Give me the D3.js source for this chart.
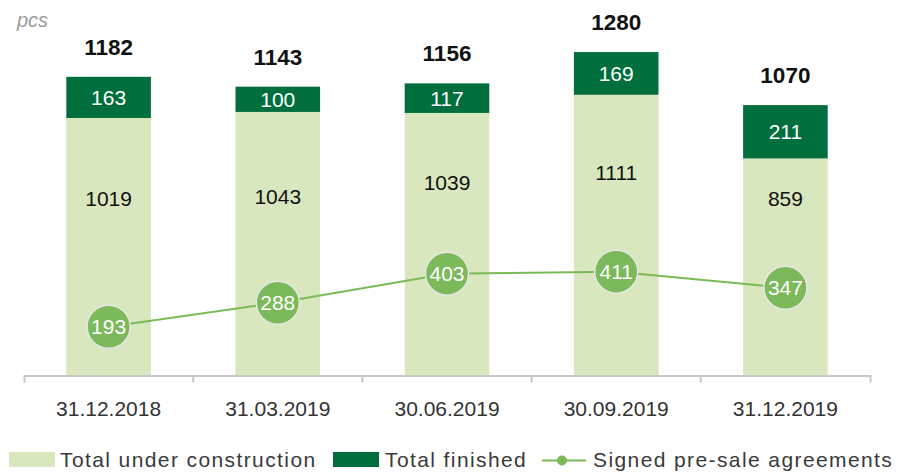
<!DOCTYPE html>
<html>
<head>
<meta charset="utf-8">
<script src="https://cdn.jsdelivr.net/npm/d3@7"></script>
<style>
body { margin: 0; background: #fff; }
svg { display: block; font-family: "Liberation Sans", Arial, sans-serif; }
</style>
</head>
<body>
<div id="chart"></div>
<script>

// data
var dates = ["31.12.2018", "31.03.2019", "30.06.2019", "30.09.2019", "31.12.2019"];
var underConstruction = [1019, 1043, 1039, 1111, 859];
var finished = [163, 100, 117, 169, 211];
var totals = [1182, 1143, 1156, 1280, 1070];
var presale = [193, 288, 403, 411, 347];
var legendNames = ["Total under construction", "Total finished", "Signed pre-sale agreements"];

var lightGreen = "#d8e7bd", darkGreen = "#006f3d", lineGreen = "#7bba58";

var width = 908, height = 472;
var baseY = 375.5;

var svg = d3.select("#chart").append("svg")
    .attr("width", width)
    .attr("height", height);

var x = d3.scaleBand()
    .domain(dates)
    .range([24, 870])
    .paddingInner(0.5)
    .paddingOuter(0.25);

var y = d3.scaleLinear()
    .domain([0, 1486])
    .range([baseY, 0]);

var bw = x.bandwidth();
var step = x.step();
var cx = function(d) { return x(d) + bw / 2; };

var rows = dates.map(function(d, i) {
    return { date: d, under: underConstruction[i], fin: finished[i], total: totals[i], pre: presale[i] };
});

// unit label
svg.append("text")
    .attr("x", 17).attr("y", 27)
    .attr("font-size", 20).attr("font-style", "italic")
    .attr("fill", "#9b9b9b")
    .text("pcs");

// bars - under construction
svg.selectAll(".under").data(rows).enter().append("rect")
    .attr("class", "under")
    .attr("x", function(d) { return x(d.date); })
    .attr("width", bw)
    .attr("y", function(d) { return y(d.under); })
    .attr("height", function(d) { return y(0) - y(d.under); })
    .attr("fill", lightGreen);

// bars - finished (stacked)
svg.selectAll(".fin").data(rows).enter().append("rect")
    .attr("class", "fin")
    .attr("x", function(d) { return x(d.date); })
    .attr("width", bw)
    .attr("y", function(d) { return y(d.under + d.fin); })
    .attr("height", function(d) { return y(d.under) - y(d.under + d.fin); })
    .attr("fill", darkGreen);

// axis
var axis = svg.append("g")
    .attr("transform", "translate(0," + baseY + ")")
    .call(d3.axisBottom(x).tickSizeInner(0).tickSizeOuter(7));
axis.select(".domain").attr("stroke", "#c9c9c9").attr("stroke-width", 2);
axis.selectAll(".tick line").remove();
axis.selectAll(".tick text")
    .attr("y", 40).attr("dy", 0)
    .attr("font-size", 21)
    .attr("fill", "#333")
    .attr("font-family", "Liberation Sans, Arial, sans-serif");
// separators between categories
axis.selectAll(".sep").data(dates.slice(0, -1)).enter().append("line")
    .attr("class", "sep")
    .attr("x1", function(d) { return x(d) + bw + step * 0.25; })
    .attr("x2", function(d) { return x(d) + bw + step * 0.25; })
    .attr("y1", 0).attr("y2", 7)
    .attr("stroke", "#c9c9c9").attr("stroke-width", 2);

// labels inside bars
svg.selectAll(".finLbl").data(rows).enter().append("text")
    .attr("class", "finLbl")
    .attr("x", function(d) { return cx(d.date); })
    .attr("y", function(d) { return (y(d.under) + y(d.under + d.fin)) / 2; })
    .attr("dy", "0.36em")
    .attr("text-anchor", "middle")
    .attr("font-size", 21)
    .attr("fill", "#fff")
    .text(function(d) { return d.fin; });

svg.selectAll(".underLbl").data(rows).enter().append("text")
    .attr("class", "underLbl")
    .attr("x", function(d) { return cx(d.date); })
    .attr("y", function(d) {
        var mid = (y(d.under) + y(d.pre) - 22) / 2;
        return Math.min(mid, y(700));
    })
    .attr("dy", "0.36em")
    .attr("text-anchor", "middle")
    .attr("font-size", 21)
    .attr("fill", "#111")
    .text(function(d) { return d.under; });

// totals above bars
svg.selectAll(".totLbl").data(rows).enter().append("text")
    .attr("class", "totLbl")
    .attr("x", function(d) { return cx(d.date); })
    .attr("y", function(d) { return y(d.total) - 22; })
    .attr("text-anchor", "middle")
    .attr("font-size", 22.5)
    .attr("font-weight", "bold")
    .attr("fill", "#111")
    .text(function(d) { return d.total; });

// pre-sale line
var line = d3.line()
    .x(function(d) { return cx(d.date); })
    .y(function(d) { return y(d.pre); });

svg.append("path")
    .datum(rows)
    .attr("d", line)
    .attr("fill", "none")
    .attr("stroke", lineGreen)
    .attr("stroke-width", 2);

svg.selectAll(".dot").data(rows).enter().append("circle")
    .attr("class", "dot")
    .attr("cx", function(d) { return cx(d.date); })
    .attr("cy", function(d) { return y(d.pre); })
    .attr("r", 21.5)
    .attr("fill", "#7cb95a")
    .attr("stroke", "#e6e6e6")
    .attr("stroke-width", 1.5);

svg.selectAll(".dotLbl").data(rows).enter().append("text")
    .attr("class", "dotLbl")
    .attr("x", function(d) { return cx(d.date); })
    .attr("y", function(d) { return y(d.pre); })
    .attr("dy", "0.36em")
    .attr("text-anchor", "middle")
    .attr("font-size", 21)
    .attr("fill", "#fff")
    .text(function(d) { return d.pre; });

// legend
var legend = svg.append("g").attr("font-size", 21).attr("fill", "#3a3a3a");

legend.append("rect").attr("x", 9).attr("y", 452).attr("width", 46).attr("height", 15).attr("fill", lightGreen);
legend.append("text").attr("x", 60).attr("y", 467).attr("letter-spacing", 1.4).text(legendNames[0]);

legend.append("rect").attr("x", 333).attr("y", 452).attr("width", 46).attr("height", 15).attr("fill", darkGreen);
legend.append("text").attr("x", 385).attr("y", 467).attr("letter-spacing", 1.4).text(legendNames[1]);

legend.append("line").attr("x1", 542).attr("x2", 586).attr("y1", 460.5).attr("y2", 460.5)
    .attr("stroke", lineGreen).attr("stroke-width", 2);
legend.append("circle").attr("cx", 562).attr("cy", 460.5).attr("r", 5).attr("fill", lineGreen);
legend.append("text").attr("x", 593).attr("y", 467).attr("letter-spacing", 1.4).text(legendNames[2]);

</script>
</body>
</html>
